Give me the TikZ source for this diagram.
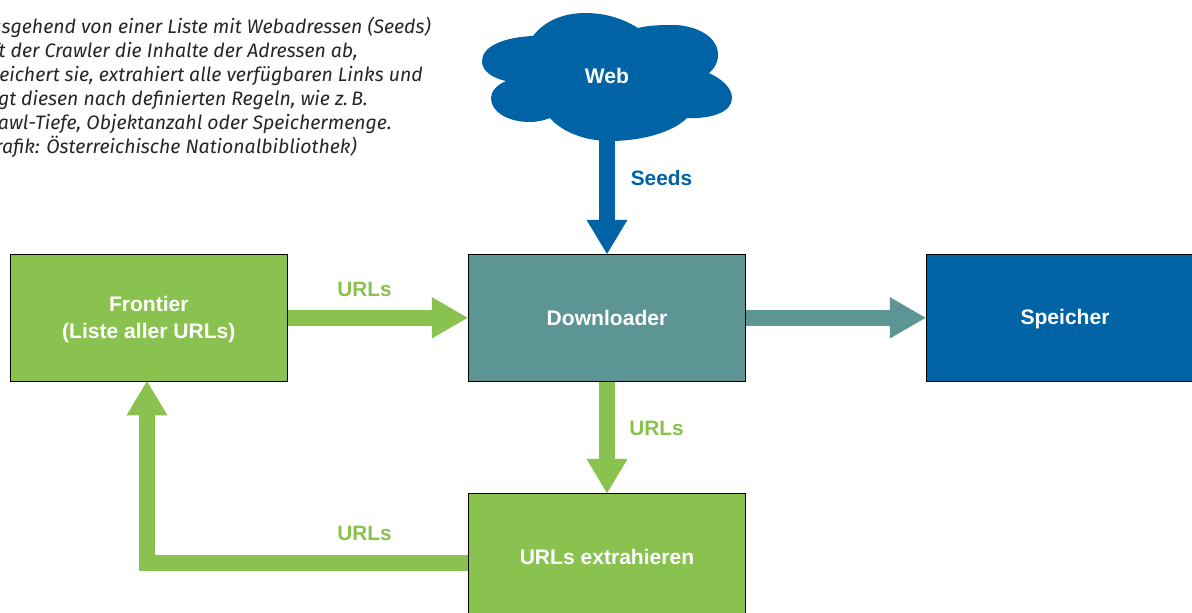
\documentclass[tikz,border=0pt]{standalone}
\usepackage{fontspec}
\setmainfont{Fira Sans}
\newfontfamily\labelfont{Liberation Sans}
\usetikzlibrary{arrows.meta}
\definecolor{cgreen}{HTML}{8AC24F}
\definecolor{cteal}{HTML}{5D9594}
\definecolor{cblue}{HTML}{0063A6}
\definecolor{ctext}{HTML}{262626}
\tikzset{
  box/.style={draw=black,line width=0.75pt,minimum width=208pt,minimum height=95.5pt,align=center,text=white,font=\labelfont\fontsize{15.8}{20}\selectfont\bfseries,inner sep=0pt},
  conn/.style={line width=12pt,shorten >=-0.6pt,-{Triangle[width=28.8pt,length=26pt]}},
  hconn/.style={line width=12pt,shorten >=-0.3pt,-{Triangle[width=28.8pt,length=27.2pt]}},
  lbl/.style={font=\labelfont\fontsize{15.6}{20}\selectfont\bfseries,inner sep=0pt},
  note/.style={font=\fontsize{14.6}{18}\selectfont\itshape,text=ctext,anchor=base east,inner sep=0pt}
}
\begin{document}
\begin{tikzpicture}[x=0.75pt,y=-0.75pt]
\useasboundingbox (0,0) rectangle (1192,612);
\clip (0,0) rectangle (1192,612);
\fill[white] (0,0) rectangle (1192,612);
% cloud
\fill[cblue] (533,36)
  .. controls (545,20) and (565,13) .. (585,13)
  .. controls (608,13) and (625,20) .. (638,28)
  .. controls (650,25) and (662,25) .. (677,25)
  .. controls (700,27) and (718,38) .. (718,55)
  .. controls (718,63) and (714,69) .. (709,73)
  .. controls (722,79) and (732,88) .. (732,98)
  .. controls (732,112) and (712,119) .. (687,118)
  .. controls (672,133) and (640,141) .. (610,141)
  .. controls (585,141) and (562,132) .. (550,118)
  .. controls (542,121) and (536,122) .. (530,122)
  .. controls (508,122) and (491,112) .. (491,98)
  .. controls (491,91) and (497,85) .. (506,81)
  .. controls (492,78) and (482,71) .. (482,61)
  .. controls (482,46) and (505,37) .. (533,36) -- cycle;
\node[minimum width=100pt,minimum height=93pt,inner sep=0pt,text=white,font=\labelfont\fontsize{15.8}{20}\selectfont\bfseries] (web) at (607,76) {Web};
% boxes
\node[box,fill=cgreen] (front) at (148.8,317.8) {\rule{0pt}{14.3pt}Frontier\\(Liste aller URLs)};
\node[box,fill=cteal] (down) at (607,317.8) {Downloader};
\node[box,fill=cblue] (store) at (1065,317.8) {\rule{0pt}{13pt}Speicher};
\node[box,fill=cgreen] (extr) at (607,557) {URLs extrahieren};
% connectors
\draw[conn,cblue] (web.south) -- (down.north);
\draw[hconn,cgreen] (front.east) -- (down.west);
\draw[hconn,cteal] (down.east) -- (store.west);
\draw[conn,cgreen] (down.south) -- (extr.north);
\coordinate (bendstart) at (467.8,563);
\coordinate (fronttip) at (147,381.5);
\draw[conn,cgreen] (bendstart) -- (147,563) -- (fronttip);
% labels
\node[lbl,text=cblue] (l1) at (661.5,178) {Seeds};
\node[lbl,text=cgreen] (l2) at (364.5,289) {URLs};
\node[lbl,text=cgreen] (l3) at (656.5,428) {URLs};
\node[lbl,text=cgreen] (l4) at (364.5,533) {URLs};
% note
\node[note] (n1) at (431,33.5) {Ausgehend von einer Liste mit Webadressen (Seeds)};
\node[note] (n2) at (358,57.5) {ruft der Crawler die Inhalte der Adressen ab,};
\node[note] (n3) at (423,81.5) {speichert sie, extrahiert alle verfügbaren Links und};
\node[note] (n4) at (368,105.5) {folgt diesen nach definierten Regeln, wie z.\,B.};
\node[note] (n5) at (392,129.5) {Crawl-Tiefe, Objektanzahl oder Speichermenge.};
\node[note] (n6) at (357,153.5) {(Grafik: Österreichische Nationalbibliothek)};
\end{tikzpicture}
\end{document}
